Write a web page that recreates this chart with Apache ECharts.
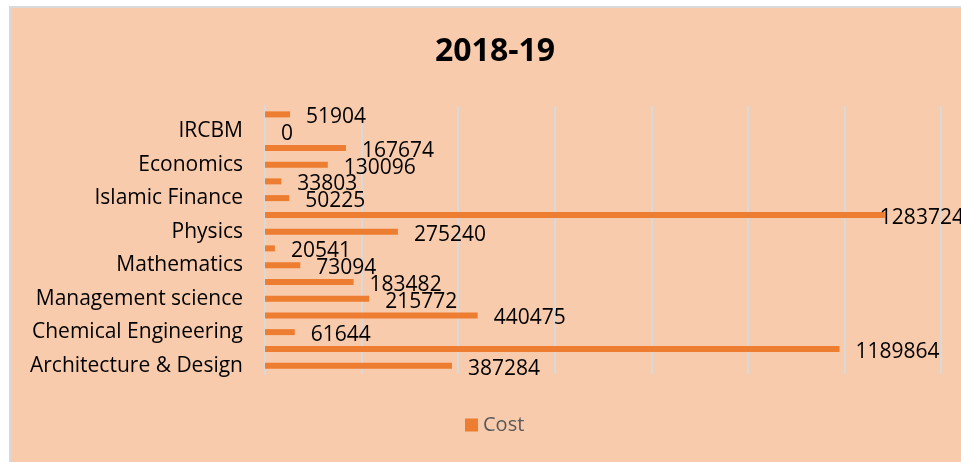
<!DOCTYPE html>
<html>
<head>
<meta charset="utf-8">
<title>2018-19</title>
<script src="https://cdn.jsdelivr.net/npm/echarts@6/dist/echarts.min.js"></script>
<style>
    body { margin: 0; background: #fff; }
    #frame { position: absolute; left: 9px; top: 6px; width: 970px; height: 470px; background: #F8CBAD; border: 2px solid #d9d9d9; box-sizing: border-box; }
    #costChart { position: absolute; left: 0; top: 0; width: 961px; height: 462px; }
</style>
</head>
<body>
<div id="frame"></div>
<div id="costChart"></div>
<script>
// bottom to top, only every other department is labelled in the original
var deptName = ['Architecture & Design', '', 'Chemical Engineering', '', 'Management science', '',
    'Mathematics', '', 'Physics', '', 'Islamic Finance', '', 'Economics', '', 'IRCBM', ''];
var costData = [387284, 1189864, 61644, 440475, 215772, 183482, 73094, 20541,
    275240, 1283724, 50225, 33803, 130096, 167674, 0, 51904];

var costChart = echarts.init(document.getElementById("costChart"));

var maxCost = Math.max.apply(null, costData);
// the longest bar's label is pulled back against the bar end so it fits
var barItems = costData.map(function (v) {
    if (v === maxCost) {
        return { value: v, label: { distance: -5 } };
    }
    return v;
});

costChart.setOption({
    textStyle: { fontFamily: 'Open Sans' },
    title: {
        text: '2018-19',
        left: 430,
        top: 31,
        textStyle: { fontSize: 32, fontWeight: 'bold', color: '#000', fontFamily: 'Open Sans' }
    },
    legend: {
        data: ['Cost'],
        bottom: 22,
        left: 460,
        itemWidth: 13,
        itemHeight: 13,
        icon: 'rect',
        textStyle: { fontSize: 20, color: '#595959' }
    },
    grid: { left: 265, right: 20, top: 106, bottom: 88 },
    xAxis: {
        type: 'value',
        min: 0,
        max: 1400000,
        interval: 200000,
        axisLabel: { show: false },
        axisLine: { show: false },
        axisTick: { show: false },
        splitLine: { lineStyle: { color: '#d9d9d9', width: 2 } }
    },
    yAxis: {
        type: 'category',
        data: deptName,
        axisTick: { show: false },
        axisLine: { lineStyle: { color: '#d9d9d9', width: 2 } },
        axisLabel: { interval: 0, fontSize: 21, color: '#000', margin: 22 }
    },
    series: [{
        name: 'Cost',
        type: 'bar',
        data: barItems,
        barWidth: 6,
        itemStyle: { color: '#ED7D31' },
        label: {
            show: true,
            position: 'right',
            distance: 16,
            offset: [0, 3],
            fontSize: 21,
            color: '#000'
        }
    }]
});
</script>
</body>
</html>
